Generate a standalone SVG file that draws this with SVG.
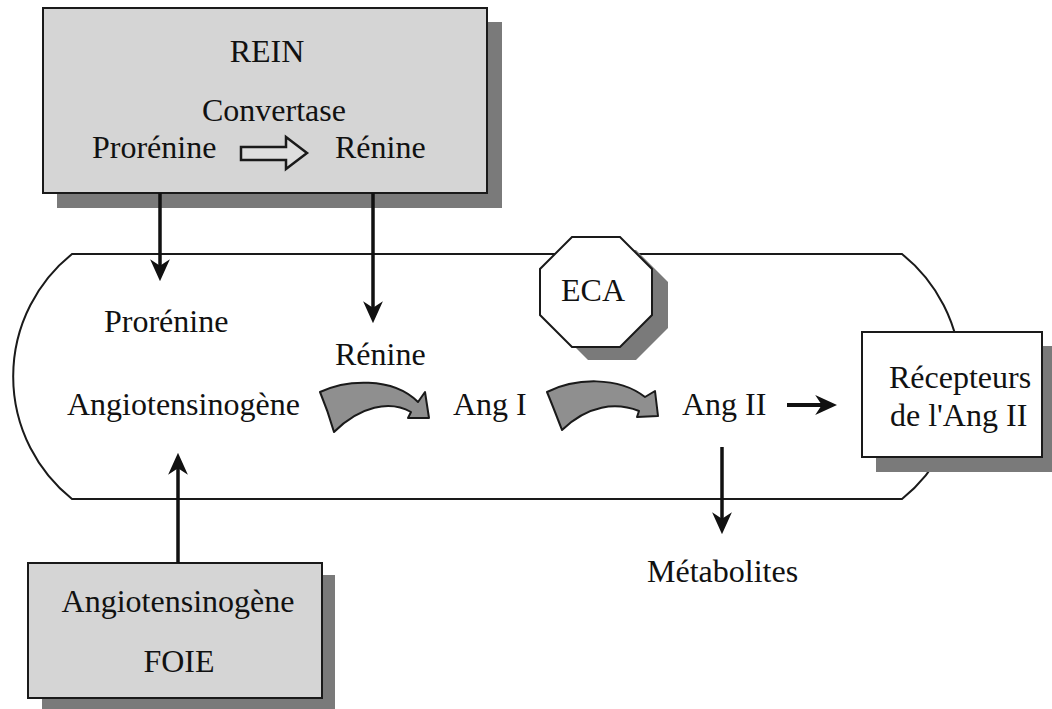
<svg xmlns="http://www.w3.org/2000/svg" width="1052" height="709" viewBox="0 0 1052 709">
<style>
text{font-family:"Liberation Serif","Times New Roman",serif;font-size:32px;fill:#111111}
.box{fill:#d5d5d5;stroke:#1a1a1a;stroke-width:2}
.shadow{fill:#7a7a7a}
.white{fill:#ffffff;stroke:#1a1a1a;stroke-width:2}
.arr{stroke:#111111;stroke-width:3.5;fill:none;marker-end:url(#ah)}
.curved{fill:#8f8f8f;stroke:#1a1a1a;stroke-width:2;stroke-linejoin:round}
</style>
<defs>
<marker id="ah" viewBox="0 0 20 20" markerWidth="22" markerHeight="22" refX="8" refY="10" markerUnits="userSpaceOnUse" orient="auto">
<path d="M0,1 L20,10 L0,19 L6,10 Z" fill="#111111"/>
</marker>
</defs>
<rect width="1052" height="709" fill="#ffffff"/>
<g id="tube">
<path d="M72,254 L902,254 A157,157 0 0 1 902,499 L72,499 A157,157 0 0 1 72,254 Z" fill="#ffffff" stroke="#1a1a1a" stroke-width="2"/>
</g>
<g id="rein">
<rect class="shadow" x="57" y="22" width="445" height="186"/>
<rect class="box" x="43" y="8" width="444" height="185"/>
<text x="267" y="62" text-anchor="middle">REIN</text>
<text x="274" y="121" text-anchor="middle">Convertase</text>
<text x="92" y="158">Prorénine</text>
<polygon points="241,147 286,147 286,137 307,153 286,169 286,160 241,160" fill="#dedede" stroke="#1a1a1a" stroke-width="2.5" stroke-linejoin="miter"/>
<text x="335" y="158">Rénine</text>
</g>
<g id="foie">
<rect class="shadow" x="42" y="575" width="293" height="134"/>
<rect class="box" x="28" y="563" width="294" height="135"/>
<text x="178" y="612" text-anchor="middle">Angiotensinogène</text>
<text x="179" y="672" text-anchor="middle">FOIE</text>
</g>
<g id="eca">
<polygon class="shadow" points="588,250 636,250 668,282 668,328 636,360 588,360 556,328 556,282"/>
<polygon class="white" points="572,237 620,237 652,269 652,315 620,347 572,347 540,315 540,269"/>
<text x="593" y="301" text-anchor="middle">ECA</text>
</g>
<g id="recepteurs">
<rect class="shadow" x="876" y="346" width="180" height="126"/>
<rect class="white" x="862" y="332" width="180" height="125"/>
<text x="889" y="388">Récepteurs</text>
<text x="890" y="426">de l'Ang II</text>
</g>
<g id="prorenine"><text x="104" y="332">Prorénine</text></g>
<g id="renine"><text x="335" y="365">Rénine</text></g>
<g id="angiotensinogene"><text x="67" y="415">Angiotensinogène</text></g>
<g id="angI"><text x="453" y="415">Ang I</text></g>
<g id="angII"><text x="682" y="415">Ang II</text></g>
<g id="metabolites"><text x="647" y="582">Métabolites</text></g>
<g id="connectors">
<line class="arr" x1="160" y1="193" x2="160" y2="268"/>
<line class="arr" x1="373" y1="193" x2="373" y2="310"/>
<line class="arr" x1="178" y1="563" x2="178" y2="466"/>
<line class="arr" x1="722" y1="447" x2="722" y2="521"/>
<line class="arr" x1="787" y1="405" x2="824" y2="405" style="stroke-width:4"/>
<path class="curved" d="M320,392 C345,380 392,376 418,402 L425,392 L429,418 L408,418 L411,412 C390,400 360,406 334,432 C330,418 325,404 320,392 Z"/>
<path class="curved" d="M547,392 C575,378 618,376 645,397 L655,391 L658,416 L637,417 L639,411 C616,402 588,405 562,430 C557,417 552,404 547,392 Z"/>
</g>
</svg>
